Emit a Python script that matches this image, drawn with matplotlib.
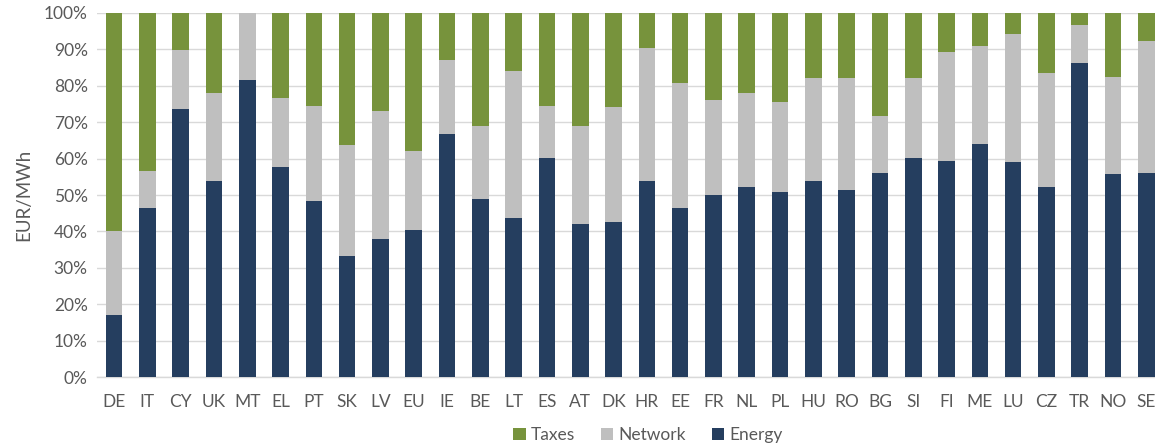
import matplotlib.pyplot as plt
import numpy as np

# country codes, in the order shown
countries = ["DE", "IT", "CY", "UK", "MT", "EL", "PT", "SK", "LV", "EU", "IE",
             "BE", "LT", "ES", "AT", "DK", "HR", "EE", "FR", "NL", "PL", "HU",
             "RO", "BG", "SI", "FI", "ME", "LU", "CZ", "TR", "NO", "SE"]

# shares of the final price (%)
energy = [17.2, 46.3, 73.5, 53.9, 81.6, 57.6, 48.3, 33.3, 37.8, 40.4, 66.6,
          48.8, 43.7, 60.1, 42.0, 42.6, 53.8, 46.3, 49.9, 52.2, 50.8, 53.8,
          51.4, 55.9, 60.1, 59.2, 64.1, 59.0, 52.2, 86.2, 55.7, 55.9]
network = [22.9, 10.4, 16.3, 24.0, 18.4, 18.9, 26.2, 30.4, 35.3, 21.7, 20.3,
           20.0, 40.4, 14.4, 26.8, 31.6, 36.5, 34.4, 26.1, 25.7, 24.6, 28.4,
           30.8, 15.8, 22.1, 30.0, 26.8, 35.1, 31.2, 10.4, 26.7, 36.4]
taxes = [59.9, 43.3, 10.2, 22.1, 0.0, 23.5, 25.5, 36.3, 26.9, 37.9, 13.1,
         31.2, 15.9, 25.5, 31.2, 25.8, 9.7, 19.3, 24.0, 22.1, 24.6, 17.8,
         17.8, 28.3, 17.8, 10.8, 9.1, 5.9, 16.6, 3.4, 17.6, 7.7]

c_energy = "#253E5F"
c_network = "#BFBFBF"
c_taxes = "#77933C"
txt = "#595959"

plt.rcParams["font.family"] = ["Lato", "DejaVu Sans"]

fig = plt.figure(figsize=(11.55, 4.46), dpi=100)
# plot area is cut off a bit at the right edge, like the original
ax = fig.add_axes([97.4 / 1155, 68.7 / 446, 1065.6 / 1155, 364.6 / 446])

x = np.arange(len(countries))
e = np.array(energy)
n = np.array(network)
t = np.array(taxes)

ax.bar(x, e, width=0.5, color=c_energy, label="Energy", zorder=3)
ax.bar(x, n, width=0.5, bottom=e, color=c_network, label="Network", zorder=3)
ax.bar(x, t, width=0.5, bottom=e + n, color=c_taxes, label="Taxes", zorder=3)

ax.set_xlim(-0.5, len(countries) - 0.5)
ax.set_ylim(0, 100)
ax.set_yticks(np.arange(0, 101, 10))
ax.set_yticklabels([f"{v}%" for v in range(0, 101, 10)])
ax.set_xticks(x)
ax.set_xticklabels(countries)
ax.tick_params(axis="both", length=0, colors=txt, labelsize=12.5)
ax.tick_params(axis="x", pad=12)
ax.tick_params(axis="y", pad=7)

ax.grid(axis="y", color="#D9D9D9", linewidth=1, zorder=0)
for s in ["top", "right", "left"]:
    ax.spines[s].set_visible(False)
ax.spines["bottom"].set_color("#D9D9D9")
ax.spines["bottom"].set_linewidth(1)

ax.set_ylabel("EUR/MWh", color=txt, fontsize=13.5, labelpad=8)

h, l = ax.get_legend_handles_labels()
fig.legend(h[::-1], l[::-1], loc="center", bbox_to_anchor=(648 / 1155, 1 - 435 / 446),
           ncol=3, frameon=False, fontsize=12.5, labelcolor=txt,
           handlelength=0.7, handleheight=0.7, handletextpad=0.3, columnspacing=1.5)

fig.savefig("out.png", dpi=100)
